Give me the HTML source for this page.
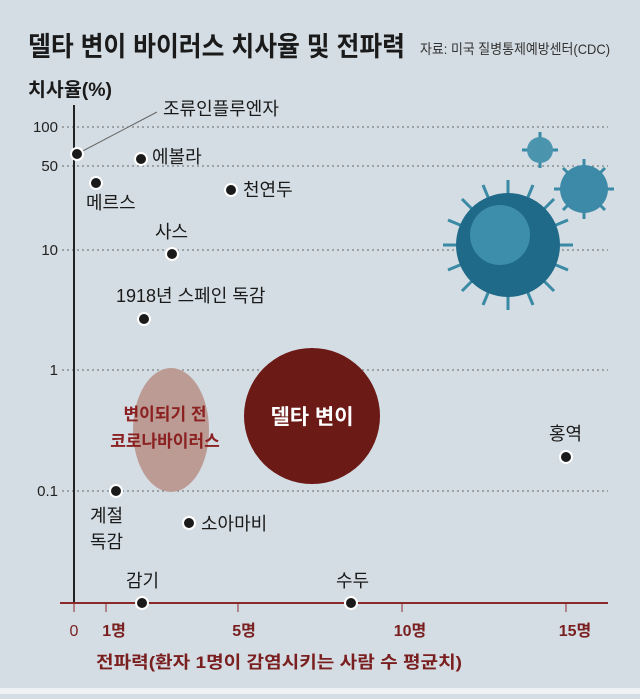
<!DOCTYPE html>
<html><head><meta charset="utf-8"><style>
body{margin:0;width:640px;height:694px;background:#d4dde3;overflow:hidden;font-family:"Liberation Sans","Noto Sans CJK KR",sans-serif}
</style></head><body>
<svg width="640" height="694" xmlns="http://www.w3.org/2000/svg" style="font-family:'Liberation Sans','Noto Sans CJK KR',sans-serif">
<rect width="640" height="694" fill="#d4dde3"/>
<rect y="688" width="640" height="6" fill="#eef2f4"/>
<text x="28" y="56" font-size="27" font-weight="bold" fill="#1a1a1a" textLength="377" lengthAdjust="spacingAndGlyphs">델타 변이 바이러스 치사율 및 전파력</text>
<text x="420" y="54" font-size="14" fill="#333" textLength="190" lengthAdjust="spacingAndGlyphs">자료: 미국 질병통제예방센터(CDC)</text>
<text x="28" y="96" font-size="19" font-weight="bold" fill="#1a1a1a" textLength="84" lengthAdjust="spacingAndGlyphs">치사율(%)</text>
<g stroke="#666" stroke-dasharray="2,3" stroke-width="1">
<line x1="62" y1="127" x2="608" y2="127"/><line x1="62" y1="166" x2="608" y2="166"/>
<line x1="62" y1="250" x2="608" y2="250"/><line x1="62" y1="370" x2="608" y2="370"/>
<line x1="62" y1="491" x2="608" y2="491"/></g>
<g font-size="15" fill="#222" text-anchor="end">
<text x="58" y="132">100</text><text x="58" y="171">50</text><text x="58" y="255">10</text><text x="58" y="375">1</text><text x="58" y="496">0.1</text></g>
<line x1="74" y1="105" x2="74" y2="603" stroke="#222" stroke-width="2"/>
<line x1="60" y1="603" x2="608" y2="603" stroke="#8b2a2a" stroke-width="2"/>
<g stroke="#8b2a2a" stroke-width="1"><line x1="74" y1="603" x2="74" y2="612"/><line x1="106" y1="603" x2="106" y2="612"/><line x1="238" y1="603" x2="238" y2="612"/><line x1="402" y1="603" x2="402" y2="612"/><line x1="566" y1="603" x2="566" y2="612"/></g>
<g font-size="16" fill="#7a1f1f" font-weight="bold" text-anchor="middle">
<text x="74" y="636" font-weight="normal">0</text><text x="114" y="636">1명</text><text x="244" y="636">5명</text><text x="410" y="636">10명</text><text x="575" y="636">15명</text></g>
<text x="96" y="668" font-size="17" font-weight="bold" fill="#7a1f1f" textLength="366" lengthAdjust="spacingAndGlyphs">전파력(환자 1명이 감염시키는 사람 수 평균치)</text>
<!-- viruses -->
<g fill="#2f7e9a">
<g stroke="#3a8aa6" stroke-width="3">
<line x1="508" y1="180" x2="508" y2="310"/><line x1="443" y1="245" x2="573" y2="245"/><line x1="462" y1="199" x2="554" y2="291"/><line x1="554" y1="199" x2="462" y2="291"/>
<line x1="483" y1="185" x2="533" y2="305"/><line x1="533" y1="185" x2="483" y2="305"/><line x1="448" y1="220" x2="568" y2="270"/><line x1="448" y1="270" x2="568" y2="220"/>
<line x1="584" y1="159" x2="584" y2="219"/><line x1="554" y1="189" x2="614" y2="189"/><line x1="563" y1="168" x2="605" y2="210"/><line x1="605" y1="168" x2="563" y2="210"/>
<line x1="540" y1="132" x2="540" y2="168"/><line x1="522" y1="150" x2="558" y2="150"/></g>
<circle cx="508" cy="245" r="52" fill="#1f6a88"/><circle cx="500" cy="235" r="30" fill="#3c8eab"/>
<circle cx="584" cy="189" r="24" fill="#3c8aa8"/>
<circle cx="540" cy="150" r="13" fill="#4b94ae"/></g>
<!-- bubbles -->
<ellipse cx="171" cy="430" rx="38" ry="62" fill="#bb9b94"/>
<circle cx="312" cy="416" r="68" fill="#6b1a16"/>
<text x="312" y="424" font-size="21" font-weight="bold" fill="#fff" text-anchor="middle">델타 변이</text>
<g font-size="17" font-weight="bold" fill="#8b2020" text-anchor="middle"><text x="165" y="420">변이되기 전</text><text x="165" y="447">코로나바이러스</text></g>
<line x1="77" y1="154" x2="157" y2="112" stroke="#666" stroke-width="1"/>
<g fill="#1a1a1a" stroke="#fff" stroke-width="2">
<circle cx="77" cy="154" r="6"/><circle cx="141" cy="159" r="6"/><circle cx="96" cy="183" r="6"/><circle cx="231" cy="190" r="6"/>
<circle cx="172" cy="254" r="6"/><circle cx="144" cy="319" r="6"/><circle cx="566" cy="457" r="6"/><circle cx="116" cy="491" r="6"/>
<circle cx="189" cy="523" r="6"/><circle cx="142" cy="603" r="6"/><circle cx="351" cy="603" r="6"/></g>
<g font-size="18" fill="#1a1a1a">
<text x="163" y="115">조류인플루엔자</text><text x="152" y="163">에볼라</text><text x="86" y="209">메르스</text><text x="243" y="196">천연두</text>
<text x="155" y="238">사스</text><text x="116" y="302">1918년 스페인 독감</text><text x="549" y="440">홍역</text>
<text x="90" y="522">계절</text><text x="90" y="548">독감</text><text x="201" y="530">소아마비</text>
<text x="126" y="587">감기</text><text x="336" y="587">수두</text></g>
</svg>
</body></html>
